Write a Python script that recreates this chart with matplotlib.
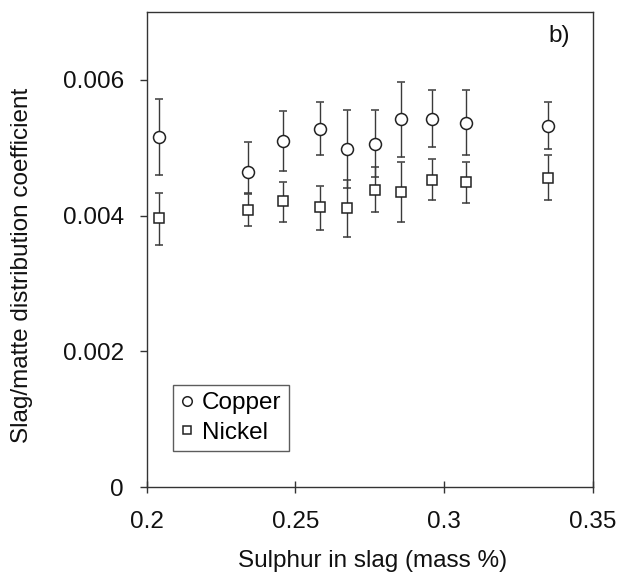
import numpy as np
import matplotlib.pyplot as plt

plt.rcParams['font.family'] = ['Liberation Sans', 'DejaVu Sans']

# sulphur in slag (mass %)
sulphur = [0.2041, 0.2339, 0.2457, 0.2581, 0.2674, 0.2768, 0.2855, 0.2959, 0.3072, 0.3350]

# copper distribution coefficient, with upper / lower error bar ends
cu = [0.00516, 0.00464, 0.00510, 0.00528, 0.00498, 0.00506, 0.00542, 0.00543, 0.00537, 0.00532]
cu_hi = [0.00572, 0.00509, 0.00554, 0.00568, 0.00555, 0.00555, 0.00597, 0.00585, 0.00585, 0.00568]
cu_lo = [0.00460, 0.00433, 0.00466, 0.00489, 0.00440, 0.00457, 0.00487, 0.00501, 0.00489, 0.00498]

# nickel distribution coefficient
ni = [0.00396, 0.00408, 0.00421, 0.00412, 0.00411, 0.00438, 0.00435, 0.00453, 0.00449, 0.00456]
ni_hi = [0.00434, 0.00432, 0.00449, 0.00444, 0.00453, 0.00471, 0.00479, 0.00484, 0.00479, 0.00490]
ni_lo = [0.00357, 0.00384, 0.00391, 0.00379, 0.00369, 0.00406, 0.00390, 0.00423, 0.00419, 0.00423]

x_ticks = [0.2, 0.25, 0.3, 0.35]
x_ticklabels = ['0.2', '0.25', '0.3', '0.35']
y_ticks = [0, 0.002, 0.004, 0.006]
y_ticklabels = ['0', '0.002', '0.004', '0.006']

cu = np.array(cu)
ni = np.array(ni)
cu_err = [cu - np.array(cu_lo), np.array(cu_hi) - cu]
ni_err = [ni - np.array(ni_lo), np.array(ni_hi) - ni]

fig = plt.figure(figsize=(6.22, 5.72), dpi=100)
ax = fig.add_axes([0.236, 0.1486, 0.717, 0.8304])

ecol = '#3a3a3a'
ax.errorbar(sulphur, cu, yerr=cu_err, fmt='o', ms=8.6, mfc='white', mec='#222222',
            mew=1.1, ecolor=ecol, elinewidth=1.0, capsize=2.8, capthick=1.0,
            label='Copper', zorder=3)
ax.errorbar(sulphur, ni, yerr=ni_err, fmt='s', ms=7.8, mfc='white', mec='#222222',
            mew=1.1, ecolor=ecol, elinewidth=1.0, capsize=2.8, capthick=1.0,
            label='Nickel', zorder=4)

ax.set_xlim(0.2, 0.35)
ax.set_ylim(0, 0.007)
ax.set_xticks(x_ticks)
ax.set_xticklabels(x_ticklabels)
ax.set_yticks(y_ticks)
ax.set_yticklabels(y_ticklabels)

for s in ax.spines.values():
    s.set_color('#333333')
    s.set_linewidth(1.0)

fs = 17.5
ax.tick_params(axis='x', direction='inout', length=9, width=1.0, color='#333333',
               pad=12.5, labelsize=fs, labelcolor='#111111')
ax.tick_params(axis='y', direction='out', length=5, width=1.0, color='#333333',
               pad=11.5, labelsize=fs, labelcolor='#111111')

ax.set_xlabel('Sulphur in slag (mass %)', fontsize=fs, color='#111111')
ax.set_ylabel('Slag/matte distribution coefficient', fontsize=fs, color='#111111')
ax.xaxis.set_label_coords(0.506, -0.133)
ax.yaxis.set_label_coords(-0.255, 0.467)

ax.text(0.924, 0.949, 'b)', transform=ax.transAxes, fontsize=fs,
        ha='center', va='center', color='#111111')

handles, labels = ax.get_legend_handles_labels()
handles = [h[0] for h in handles]
leg = ax.legend(handles, labels, loc='lower left', bbox_to_anchor=(0.058, 0.076),
                fontsize=17.5, frameon=True, fancybox=False, markerscale=0.8,
                handlelength=0.6, handletextpad=0.3, borderpad=0.3,
                labelspacing=0.3, borderaxespad=0)
leg.get_frame().set_edgecolor('#333333')
leg.get_frame().set_linewidth(1.0)

fig.savefig('out.png', dpi=100)
